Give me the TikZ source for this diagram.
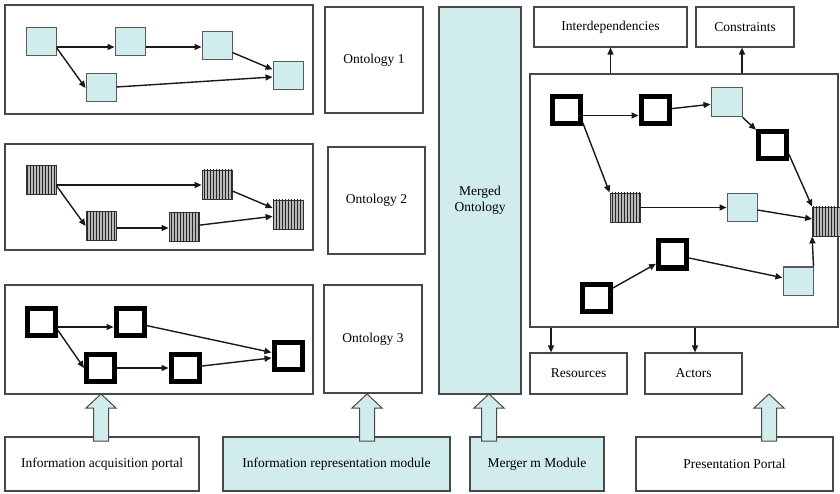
\documentclass[tikz,border=0pt]{standalone}
\usepackage{fontspec}
\setmainfont{Liberation Serif}
\usetikzlibrary{arrows.meta,patterns.meta}
\definecolor{paleteal}{RGB}{208,236,236}
\definecolor{edgegray}{RGB}{72,72,72}

% hollow upward block arrow: x, tip y, tail y
\newcommand{\liftarrow}[3]{%
  \draw[blockstyle] (#1-7.5,#3) -- (#1-7.5,#2+14) -- (#1-15,#2+14) -- (#1,#2)
    -- (#1+15,#2+14) -- (#1+7.5,#2+14) -- (#1+7.5,#3) -- cycle;}

\begin{document}
\begin{tikzpicture}[x=1pt,y=-1pt,
  font=\fontsize{13.5}{15.5}\selectfont,
  box/.style={draw=edgegray, line width=1.1pt, inner sep=0pt, align=center},
  tealbox/.style={box, fill=paleteal},
  lsq/.style={draw=black!65, line width=1pt, fill=paleteal, inner sep=0pt,
    minimum width=30pt, minimum height=28pt},
  hsq/.style={draw=black!80, line width=0.8pt, fill=gray!55, inner sep=0pt,
    minimum width=30pt, minimum height=29pt,
    postaction={pattern={Lines[angle=90, distance=3pt, line width=1pt]}, pattern color=black!85}},
  tsq/.style={draw=black, line width=5pt, fill=white, inner sep=0pt,
    minimum width=28pt, minimum height=27pt},
  arr/.style={draw=black!90, line width=1.4pt, -{Triangle[length=7pt, width=6pt]}},
  blockstyle/.style={draw=edgegray, line width=1pt, fill=paleteal, line join=miter},
]
\useasboundingbox (0,0) rectangle (840,494);
\fill[white] (0,0) rectangle (840,494);

% ---- three source process panels ----
\node[box, minimum width=308pt, minimum height=109pt] (p1) at (159,59.5) {};
\node[box, minimum width=308pt, minimum height=106pt] (p2) at (159,197) {};
\node[box, minimum width=308pt, minimum height=109pt] (p3) at (159,339.5) {};

% panel 1: plain tasks
\node[lsq] (p1a) at (41,42) {};
\node[lsq] (p1b) at (130,42) {};
\node[lsq] (p1c) at (217,46) {};
\node[lsq] (p1d) at (288,76) {};
\node[lsq] (p1e) at (101,88) {};
\draw[arr] ([yshift=-5pt]p1a.east) -- ([yshift=-5pt]p1b.west);
\draw[arr] ([yshift=-5pt]p1b.east) -- ([yshift=-5pt]p1b.east -| p1c.west);
\draw[arr] (p1a.-20) -- (p1e.west);
\draw[arr] (p1c) -- (p1d);
\draw[arr] (p1e) -- (p1d);

% panel 2: hatched tasks
\node[hsq] (p2a) at (41,180) {};
\node[hsq] (p2b) at (217,184.5) {};
\node[hsq] (p2c) at (101,226) {};
\node[hsq] (p2d) at (184,227) {};
\node[hsq] (p2e) at (288,214.5) {};
\draw[arr] ([yshift=-5pt]p2a.east) -- ([yshift=-5pt]p2a.east -| p2b.west);
\draw[arr] (p2a.-20) -- (p2c.west);
\draw[arr] ([yshift=-2pt]p2c.east) -- ([yshift=-2pt]p2c.east -| p2d.west);
\draw[arr] (p2b) -- (p2e);
\draw[arr] (p2d) -- (p2e);

% panel 3: bold-outlined tasks
\node[tsq] (p3a) at (41,322) {};
\node[tsq] (p3b) at (130,322) {};
\node[tsq] (p3c) at (100.5,368) {};
\node[tsq] (p3d) at (185,368) {};
\node[tsq] (p3e) at (288,356) {};
\draw[arr] ([yshift=-5pt]p3a.east) -- ([yshift=-5pt]p3b.west);
\draw[arr] (p3a.-25) -- (p3c.west);
\draw[arr] (p3c) -- (p3d);
\draw[arr] (p3b) -- (p3e);
\draw[arr] (p3d) -- (p3e);

% ---- ontology boxes ----
\node[box, minimum width=98pt, minimum height=106pt] (o1) at (374,60) {Ontology 1};
\node[box, minimum width=97pt, minimum height=107pt] (o2) at (376.5,200.5) {Ontology 2};
\node[box, minimum width=98pt, minimum height=108pt] (o3) at (373,339) {Ontology 3};

% ---- merged ontology column ----
\node[tealbox, minimum width=82pt, minimum height=387pt] (mo) at (480,200.5) {Merged\\Ontology};

% ---- merged process panel and its outputs ----
\node[box, minimum width=153pt, minimum height=40pt] (intd) at (610.5,27) {Interdependencies};
\node[box, minimum width=98pt, minimum height=40pt] (cons) at (745,27) {Constraints};
\node[box, minimum width=308pt, minimum height=253pt] (rp) at (684,200.5) {};
\node[box, minimum width=97pt, minimum height=41pt] (res) at (578.5,373.5) {Resources};
\node[box, minimum width=97pt, minimum height=41pt] (act) at (693.5,373.5) {Actors};

\draw[arr] (rp.north -| intd) -- (intd.south);
\draw[arr] ([xshift=-3pt]rp.north -| cons) -- ([xshift=-3pt]cons.south);
\draw[arr] ([xshift=-27.5pt]rp.south -| res) -- ([xshift=-27.5pt]res.north);
\draw[arr] ([xshift=1.5pt]rp.south -| act) -- ([xshift=1.5pt]act.north);

\node[tsq] (ra) at (566,110.5) {};
\node[tsq] (rb) at (655,110.5) {};
\node[lsq, minimum width=31pt, minimum height=29pt] (rc) at (726.5,102.5) {};
\node[tsq] (rd) at (772.5,145) {};
\node[hsq] (re) at (625,207.5) {};
\node[lsq] (rf) at (742,207.5) {};
\node[hsq] (rg) at (827.5,221.5) {};
\node[tsq] (rh) at (672.5,254.5) {};
\node[tsq] (ri) at (596,297.5) {};
\node[lsq] (rj) at (798,281) {};

\draw[arr] ([yshift=-5pt]ra.east) -- ([yshift=-5pt]rb.west);
\draw[arr] (rb) -- (rc);
\draw[arr] (rc) -- (rd);
\draw[arr] (ra.-35) -- (re.north west);
\draw[arr] (re) -- (rf);
\draw[arr] (rd.-30) -- (rg.north west);
\draw[arr] (rf) -- (rg);
\draw[arr] (ri) -- (rh);
\draw[arr] (rh) -- (rj);
\draw[arr] (rj.north east) -- (rg.south west);

% ---- bottom modules ----
\node[box, minimum width=194pt, minimum height=54pt] (iap) at (102,464) {Information acquisition portal};
\node[tealbox, minimum width=227pt, minimum height=54pt] (irm) at (336.5,464) {Information representation module};
\node[tealbox, minimum width=134pt, minimum height=54pt] (mmm) at (537,464) {Merger m Module};
\node[box, minimum width=197pt, minimum height=54pt] (pp) at (734.5,464) {Presentation Portal};

% block arrows feeding upwards
\liftarrow{101}{394}{441}
\liftarrow{367}{394}{441}
\liftarrow{489}{394}{441}
\liftarrow{769}{394}{441}
\end{tikzpicture}
\end{document}
